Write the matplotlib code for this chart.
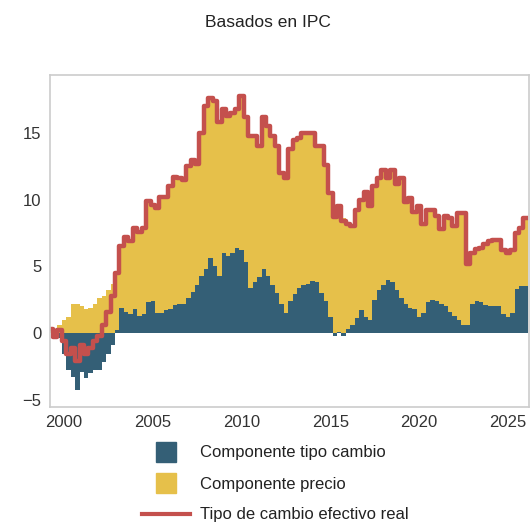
import numpy as np
import matplotlib
matplotlib.use("Agg")
import matplotlib.pyplot as plt
from matplotlib.lines import Line2D

plt.rcParams['font.family'] = ['Liberation Sans', 'DejaVu Sans']

# quarterly observations, start 1999Q2
start = 1999.25
tcer = [0.3, -0.3, 0.2,
        -0.6, -1.6, -1.1, -2.1,
        -0.9, -1.6, -1.1, -0.6,
        -0.2, 0.6, 1.6, 2.8,
        4.5, 6.5, 7.2, 6.9,
        7.9, 7.6, 7.9, 9.9,
        9.6, 9.4, 10.2, 10.2,
        11.0, 11.7, 11.6, 11.5,
        12.5, 13.0, 12.7, 15.0,
        17.0, 17.6, 17.4, 15.8,
        16.8, 16.3, 16.5, 16.8,
        17.8, 16.2, 14.8, 14.8,
        14.0, 16.2, 15.5, 14.8,
        14.0, 12.0, 11.6, 13.8,
        14.5, 14.6, 15.0, 15.0,
        15.0, 14.0, 14.0, 12.6,
        10.5, 8.7, 9.5, 8.4,
        8.2, 8.0, 9.2, 10.0,
        10.6, 9.5, 11.0, 11.6,
        12.2, 11.6, 12.2, 11.2,
        11.6, 9.8, 10.1, 9.1,
        9.5, 8.2, 9.2, 9.2,
        8.8, 7.8, 8.8, 8.6,
        8.0, 9.0, 9.0, 5.2,
        6.0, 6.3, 6.4, 6.7,
        6.9, 7.0, 7.0, 6.2,
        6.0, 6.2, 7.5, 7.9,
        8.6]
comp_tc = [0.0, -0.4, -0.4,
           -1.6, -2.8, -3.3, -4.3,
           -2.9, -3.4, -3.0, -2.8,
           -2.8, -2.2, -1.6, -0.9,
           0.2, 1.9, 1.6, 1.4,
           1.8, 1.3, 1.4, 2.3,
           2.4, 1.5, 1.5, 1.7,
           1.8, 2.1, 2.2, 2.2,
           2.6, 3.1, 3.6, 4.3,
           4.8, 5.6, 5.0, 4.3,
           6.0, 5.8, 6.0, 6.4,
           6.2, 5.3, 3.4, 3.8,
           4.2, 4.8, 4.3, 3.6,
           3.0, 2.2, 1.5, 2.4,
           2.9, 3.4, 3.6, 3.7,
           3.9, 3.8, 3.0, 2.4,
           1.2, -0.2, 0.1, -0.2,
           0.3, 0.6, 1.1, 1.7,
           1.2, 1.0, 2.5, 3.2,
           3.6, 4.0, 3.8, 3.2,
           2.6, 2.2, 1.9, 1.8,
           1.2, 1.5, 2.3, 2.5,
           2.4, 2.2, 2.0, 1.6,
           1.3, 1.0, 0.6, 0.6,
           2.2, 2.4, 2.3, 2.1,
           2.0, 2.0, 2.0, 1.4,
           1.2, 1.5, 3.3, 3.5,
           3.5]
comp_precio = [0.3, 0.1, 0.6,
               1.0, 1.2, 2.2, 2.2,
               2.0, 1.8, 1.9, 2.2,
               2.6, 2.8, 3.2, 3.7,
               4.3, 4.6, 5.6, 5.5,
               6.1, 6.3, 6.5, 7.6,
               7.2, 7.9, 8.7, 8.5,
               9.2, 9.6, 9.4, 9.3,
               9.9, 9.9, 9.1, 10.7,
               12.2, 12.0, 12.4, 11.5,
               10.8, 10.5, 10.5, 10.4,
               11.6, 10.9, 11.4, 11.0,
               9.8, 11.4, 11.2, 11.2,
               11.0, 9.8, 10.1, 11.4,
               11.6, 11.2, 11.4, 11.3,
               11.1, 10.2, 11.0, 10.2,
               9.3, 8.9, 9.4, 8.6,
               7.9, 7.4, 8.1, 8.3,
               9.4, 8.5, 8.5, 8.4,
               8.6, 7.6, 8.4, 8.0,
               9.0, 7.6, 8.2, 7.3,
               8.3, 6.7, 6.9, 6.7,
               6.4, 5.6, 6.8, 7.0,
               6.7, 8.0, 8.4, 4.6,
               3.8, 3.9, 4.1, 4.6,
               4.9, 5.0, 5.0, 4.8,
               4.8, 4.7, 4.2, 4.4,
               5.1]

labels = ['Componente tipo cambio', 'Componente precio', 'Tipo de cambio efectivo real']
c_tc = '#345f76'
c_pr = '#e6c04a'
c_line = '#c4504d'

t = start + 0.25 * np.arange(len(tcer))
tc = np.array(comp_tc)
pr = np.array(comp_precio)

fig = plt.figure(figsize=(5.3, 5.25), dpi=100)
ax = fig.add_axes([0.0943, 0.2248, 0.9038, 0.6323])

ax.bar(t, tc, width=0.25, color=c_tc, linewidth=0)
ax.bar(t, pr, width=0.25, bottom=np.maximum(tc, 0), color=c_pr, linewidth=0)
ax.plot(t, tcer, color=c_line, linewidth=3.2, drawstyle='steps-mid')

ax.set_xlim(1999.21, 2026.19)
ax.set_ylim(-5.55, 19.35)
ax.set_xticks([2000, 2005, 2010, 2015, 2020, 2025])
ax.set_yticks([-5, 0, 5, 10, 15])
ax.tick_params(length=0, labelsize=12, colors='#333333', pad=6)
for s in ax.spines.values():
    s.set_color('#cccccc')
    s.set_linewidth(1.2)

fig.text(0.506, 0.958, 'Basados en IPC', ha='center', va='center', fontsize=12.5, color='#222222')

handles = [Line2D([], [], marker='s', markersize=14.5, linestyle='none', color=c_tc),
           Line2D([], [], marker='s', markersize=14.5, linestyle='none', color=c_pr),
           Line2D([], [], color=c_line, linewidth=3)]
fig.legend(handles, labels, loc='upper center', bbox_to_anchor=(0.52, 0.18),
           frameon=False, fontsize=12, handlelength=2.9, labelspacing=0.96,
           handletextpad=0.6, labelcolor='#222222')

fig.savefig('out.png', dpi=100)
